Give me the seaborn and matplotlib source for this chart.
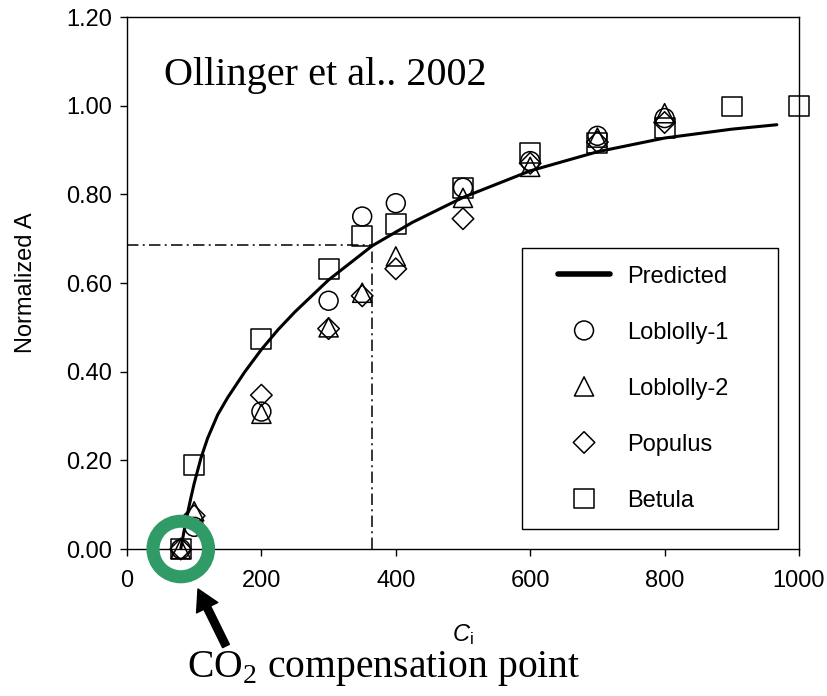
import matplotlib
matplotlib.use("Agg")
import numpy as np
import pandas as pd
import matplotlib.pyplot as plt
import seaborn as sns
from matplotlib.lines import Line2D
from matplotlib.collections import PathCollection
from matplotlib.legend_handler import HandlerLine2D, HandlerPathCollection

# ---------------- data ----------------
ci_levels = [80, 100, 200, 300, 350, 400, 500, 600, 700, 800]
loblolly1 = [0.00, 0.05, 0.31, 0.56, 0.75, 0.78, 0.815, 0.875, 0.932, 0.972]
loblolly2 = [0.00, 0.085, 0.305, 0.50, 0.578, 0.66, 0.792, 0.862, 0.928, 0.983]
populus = [0.00, 0.075, 0.347, 0.497, 0.571, 0.632, 0.745, 0.870, 0.918, 0.962]
betula_ci = [80, 100, 200, 300, 350, 400, 500, 600, 700, 800, 900, 1000]
betula = [0.00, 0.19, 0.474, 0.632, 0.706, 0.733, 0.814, 0.893, 0.916, 0.950, 0.998, 1.00]

pred_ci = [80, 85, 90, 95, 100, 110, 120, 135, 150, 175, 200, 225, 250, 300,
           365, 425, 500, 600, 700, 800, 900, 967]
pred_a = [0.000, 0.041, 0.080, 0.115, 0.148, 0.205, 0.250, 0.303, 0.342, 0.399,
          0.450, 0.495, 0.535, 0.607, 0.684, 0.737, 0.793, 0.853, 0.896, 0.927,
          0.947, 0.957]

ambient_ci = 365
ambient_a = 0.685
comp_ci = 80
comp_a = 0.0

xticks = [0, 200, 400, 600, 800, 1000]
yticks = [0.0, 0.2, 0.4, 0.6, 0.8, 1.0, 1.2]

series_names = ["Loblolly-1", "Loblolly-2", "Populus", "Betula"]

# ---------------- style ----------------
sns.set_style("ticks")
plt.rcParams["font.family"] = ["Liberation Sans", "DejaVu Sans"]
plt.rcParams["mathtext.fontset"] = "custom"
plt.rcParams["mathtext.rm"] = "Liberation Serif"
plt.rcParams["mathtext.it"] = "Liberation Sans:italic"
plt.rcParams["mathtext.sf"] = "Liberation Sans"
for key in ["text.color", "axes.labelcolor", "xtick.color", "ytick.color",
            "axes.edgecolor"]:
    plt.rcParams[key] = "black"

W, H = 828, 696
fig = plt.figure(figsize=(W / 100, H / 100), dpi=100)
ax = fig.add_axes([127 / W, 1 - 549 / H, 672 / W, 532 / H])

# predicted curve
sns.lineplot(x=pred_ci, y=pred_a, ax=ax, color="black", linewidth=2.2,
             label="Predicted", estimator=None, sort=False, zorder=4)

# observed series
specs = [
    (series_names[0], ci_levels, loblolly1, "o", 185),
    (series_names[1], ci_levels, loblolly2, "^", 190),
    (series_names[2], ci_levels, populus, "D", 120),
    (series_names[3], betula_ci, betula, "s", 205),
]
for name, xs, ys, mk, sz in specs:
    df = pd.DataFrame({"Ci": xs, "A": ys})
    sns.scatterplot(data=df, x="Ci", y="A", ax=ax, marker=mk, s=sz,
                    facecolors="none", edgecolor="black", linewidth=1.1,
                    label=name, clip_on=False, zorder=3)

# dash-dot guide lines
dd = (0, (7.5, 2.8, 1.3, 2.8))
ax.plot([0, ambient_ci], [ambient_a, ambient_a], color="black", lw=1.1,
        linestyle=dd, zorder=2)
ax.plot([ambient_ci, ambient_ci], [0, ambient_a], color="black", lw=1.1,
        linestyle=dd, zorder=2)

ax.set_xlim(0, 1000)
ax.set_ylim(0, 1.2)
ax.set_xticks(xticks)
ax.set_xticklabels([str(v) for v in xticks])
ax.set_yticks(yticks)
ax.set_yticklabels([f"{v:.2f}" for v in yticks])
ax.tick_params(direction="out", length=5, width=1, labelsize=17,
               colors="black")
ax.tick_params(axis="y", pad=6)
ax.tick_params(axis="x", pad=10)
for sp in ax.spines.values():
    sp.set_visible(True)
    sp.set_color("black")
    sp.set_linewidth(1.0)

ax.set_xlabel(r"$\mathit{C}_{\mathsf{i}}$", fontsize=17, labelpad=22)
ax.set_ylabel("Normalized A", fontsize=17, labelpad=21)

# legend
handles, labels = ax.get_legend_handles_labels()
leg = ax.legend(handles, labels, loc="upper left",
                bbox_to_anchor=(395 / 672, 0.0, 256 / 672, 301 / 532),
                mode="expand", borderaxespad=0, borderpad=0.75,
                labelspacing=1.44, handlelength=2.98, handletextpad=0.72,
                fontsize=17, frameon=True, fancybox=False, framealpha=1,
                edgecolor="black", scatterpoints=1, scatteryoffsets=[0.5],
                handler_map={Line2D: HandlerLine2D(xpad=0.775),
                             PathCollection: HandlerPathCollection(xpad=0.775)})
leg.get_frame().set_linewidth(1.0)
for ln in leg.get_lines():
    ln.set_linewidth(4)

# compensation point ring
ax.scatter([comp_ci], [comp_a], s=40 ** 2, facecolors="none",
           edgecolors="#319B68", linewidths=9.4, clip_on=False, zorder=6)

# arrow
ax.annotate("", xy=(198 / W, 1 - 589 / H), xycoords="figure fraction",
            xytext=(226 / W, 1 - 646 / H), textcoords="figure fraction",
            arrowprops=dict(arrowstyle="simple,head_width=0.85,head_length=0.75,tail_width=0.27",
                            color="black", mutation_scale=20, shrinkA=0, shrinkB=0),
            annotation_clip=False)

# texts
fig.text(164 / W, 1 - 85 / H, "Ollinger et al.. 2002", fontsize=29,
         family="Liberation Serif", ha="left", va="baseline")
fig.text(580 / W, 1 - 677 / H, r"CO$_\mathrm{2}$ compensation point", fontsize=28.5,
         family="Liberation Serif", ha="right", va="baseline")

fig.savefig("out.png", dpi=100)
